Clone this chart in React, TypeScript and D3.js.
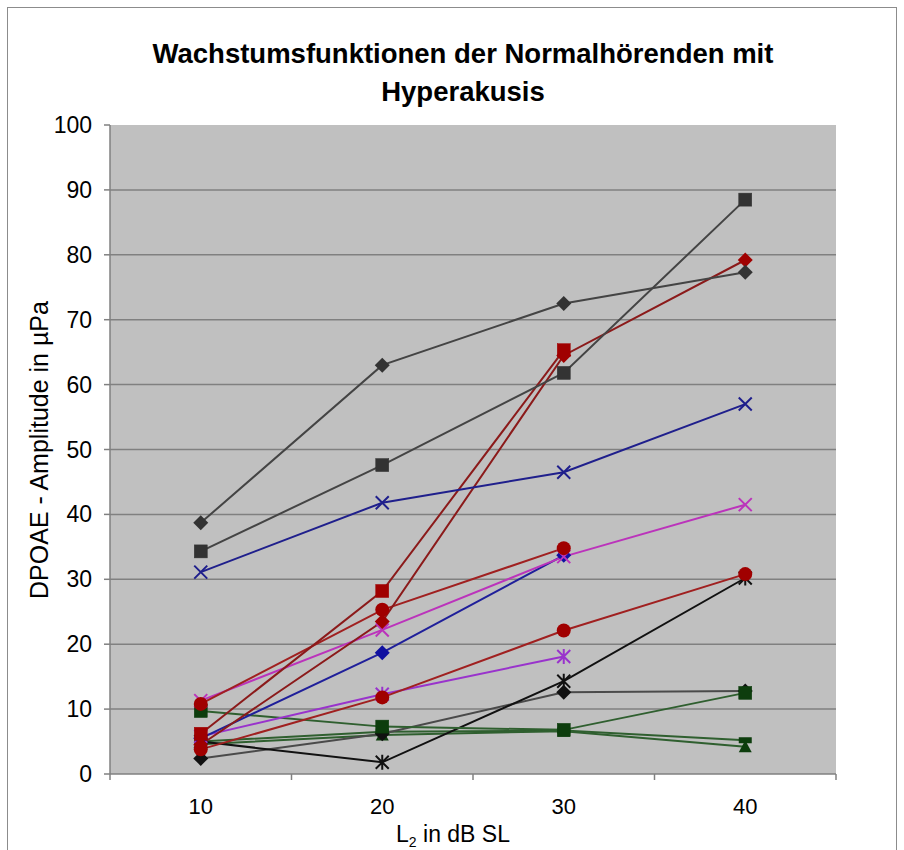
import React from "react";
import * as d3 from "d3";

const categories = ["10", "20", "30", "40"];
const yTicks = [0, 10, 20, 30, 40, 50, 60, 70, 80, 90, 100];

const grayDiamond = [38.7, 63.0, 72.5, 77.3];
const graySquare = [34.3, 47.6, 61.8, 88.5];
const blueX = [31.1, 41.8, 46.5, 57.0];
const redDiamond = [4.5, 23.5, 64.5, 79.2];
const redSquare = [6.2, 28.2, 65.3, null];
const redCircleA = [10.8, 25.3, 34.8, null];
const redCircleB = [3.8, 11.8, 22.1, 30.8];
const blueDiamond = [5.5, 18.7, 33.7, null];
const magentaX = [11.3, 22.2, 33.5, 41.5];
const purpleStar = [5.8, 12.3, 18.1, null];
const blackStar = [5.0, 1.8, 14.3, 30.2];
const blackDiamond = [2.4, 6.2, 12.6, 12.8];
const greenSquare = [9.7, 7.3, 6.8, 12.5];
const greenTriangle = [4.6, 6.0, 6.6, 4.2];
const greenDash = [5.0, 6.5, 6.7, 5.2];

type S = { values: (number | null)[]; line: string; fill: string; marker: string };

const seriesList: S[] = [
  { values: greenDash, line: "#2f5f2f", fill: "#0d3d0d", marker: "dash" },
  { values: greenTriangle, line: "#2f5f2f", fill: "#0d3d0d", marker: "triangle" },
  { values: blackDiamond, line: "#4a4a4a", fill: "#111111", marker: "diamond" },
  { values: blackStar, line: "#111111", fill: "#111111", marker: "star" },
  { values: greenSquare, line: "#2f5f2f", fill: "#0d3d0d", marker: "square" },
  { values: purpleStar, line: "#9933cc", fill: "#9933cc", marker: "star" },
  { values: blueDiamond, line: "#1f1f9a", fill: "#1010a0", marker: "diamond" },
  { values: redCircleB, line: "#a02020", fill: "#a00000", marker: "circle" },
  { values: magentaX, line: "#bb33bb", fill: "#bb33bb", marker: "x" },
  { values: redCircleA, line: "#a02020", fill: "#a00000", marker: "circle" },
  { values: redDiamond, line: "#8b1a1a", fill: "#a00000", marker: "diamond" },
  { values: redSquare, line: "#8b1a1a", fill: "#a00000", marker: "square" },
  { values: blueX, line: "#1f1f8c", fill: "#1f1f8c", marker: "x" },
  { values: graySquare, line: "#444444", fill: "#333333", marker: "square" },
  { values: grayDiamond, line: "#444444", fill: "#333333", marker: "diamond" },
];

const W = 904;
const H = 850;
const plotLeft = 110;
const plotRight = 836;
const plotTop = 125;
const plotBottom = 774;

const x = d3.scaleBand<string>().domain(categories).range([plotLeft, plotRight]).padding(0);
const y = d3.scaleLinear().domain([0, 100]).range([plotBottom, plotTop]);
const cx = (c: string) => (x(c) as number) + x.bandwidth() / 2;

function Marker({ kind, px, py, fill }: { kind: string; px: number; py: number; fill: string }) {
  if (kind === "square") {
    return <rect x={px - 6.5} y={py - 6.5} width={13} height={13} fill={fill} stroke={fill} strokeWidth={0.5} />;
  }
  if (kind === "diamond") {
    return <path d={`M${px},${py - 7.5}L${px + 7.5},${py}L${px},${py + 7.5}L${px - 7.5},${py}Z`} fill={fill} />;
  }
  if (kind === "circle") {
    return <circle cx={px} cy={py} r={7} fill={fill} />;
  }
  if (kind === "triangle") {
    return <path d={`M${px},${py - 6.5}L${px + 6.5},${py + 5.5}L${px - 6.5},${py + 5.5}Z`} fill={fill} />;
  }
  if (kind === "dash") {
    return <rect x={px - 6.5} y={py - 3} width={13} height={6} fill={fill} />;
  }
  if (kind === "x") {
    return (
      <path
        d={`M${px - 6.5},${py - 6.5}L${px + 6.5},${py + 6.5}M${px - 6.5},${py + 6.5}L${px + 6.5},${py - 6.5}`}
        stroke={fill}
        strokeWidth={2}
        fill="none"
      />
    );
  }
  return (
    <path
      d={`M${px - 6.5},${py - 6.5}L${px + 6.5},${py + 6.5}M${px - 6.5},${py + 6.5}L${px + 6.5},${py - 6.5}M${px},${py - 7.5}L${px},${py + 7.5}`}
      stroke={fill}
      strokeWidth={2}
      fill="none"
    />
  );
}

export default function App() {
  const lineGen = d3
    .line<number | null>()
    .defined((d) => d !== null)
    .x((_, i) => cx(categories[i]))
    .y((d) => y(d as number));

  const boundaries = [...categories.map((c) => x(c) as number), plotRight];

  return (
    <svg
      width={W}
      height={H}
      style={{ position: "absolute", left: 0, top: 0, background: "#ffffff" }}
      fontFamily="Arial, 'Liberation Sans', sans-serif"
    >
      <rect x={0} y={0} width={W} height={H} fill="#ffffff" />
      <rect x={7.5} y={7.5} width={889} height={860} fill="#ffffff" stroke="#8c8c8c" strokeWidth={1} />

      <text x={463} y={63} textAnchor="middle" fontSize={27.5} fontWeight="bold" fill="#000">
        Wachstumsfunktionen der Normalhörenden mit
      </text>
      <text x={463} y={101} textAnchor="middle" fontSize={27.5} fontWeight="bold" fill="#000">
        Hyperakusis
      </text>

      <rect x={plotLeft} y={plotTop} width={plotRight - plotLeft} height={plotBottom - plotTop} fill="#c0c0c0" />

      {yTicks.map((t) => (
        <g key={t}>
          {t > 0 && t < 100 && (
            <line x1={plotLeft} x2={plotRight} y1={y(t)} y2={y(t)} stroke="#808080" strokeWidth={1.5} />
          )}
          <line x1={plotLeft - 6} x2={plotLeft} y1={y(t)} y2={y(t)} stroke="#808080" strokeWidth={1.5} />
          <text x={92} y={y(t) + 8} textAnchor="end" fontSize={23} fill="#000">
            {t}
          </text>
        </g>
      ))}

      <line x1={plotLeft} x2={plotLeft} y1={plotTop} y2={plotBottom} stroke="#808080" strokeWidth={1.5} />
      <line x1={plotLeft} x2={plotRight} y1={plotBottom} y2={plotBottom} stroke="#808080" strokeWidth={1.5} />
      {boundaries.map((b, i) => (
        <line key={i} x1={b} x2={b} y1={plotBottom} y2={plotBottom + 6} stroke="#808080" strokeWidth={1.5} />
      ))}
      {categories.map((c) => (
        <text key={c} x={cx(c)} y={814} textAnchor="middle" fontSize={22} fill="#000">
          {c}
        </text>
      ))}

      {seriesList.map((s, i) => (
        <path key={i} d={lineGen(s.values) || ""} fill="none" stroke={s.line} strokeWidth={2} />
      ))}
      {seriesList.map((s, i) => (
        <g key={"m" + i}>
          {s.values.map((v, j) =>
            v === null ? null : <Marker key={j} kind={s.marker} px={cx(categories[j])} py={y(v)} fill={s.fill} />
          )}
        </g>
      ))}

      <text x={453} y={842} textAnchor="middle" fontSize={23} fill="#000">
        L<tspan fontSize={14} dy={5}>2</tspan>
        <tspan dy={-5}> in dB SL</tspan>
      </text>
      <text transform={`translate(48,450) rotate(-90)`} textAnchor="middle" fontSize={25} fill="#000">
        DPOAE - Amplitude in µPa
      </text>
    </svg>
  );
}
